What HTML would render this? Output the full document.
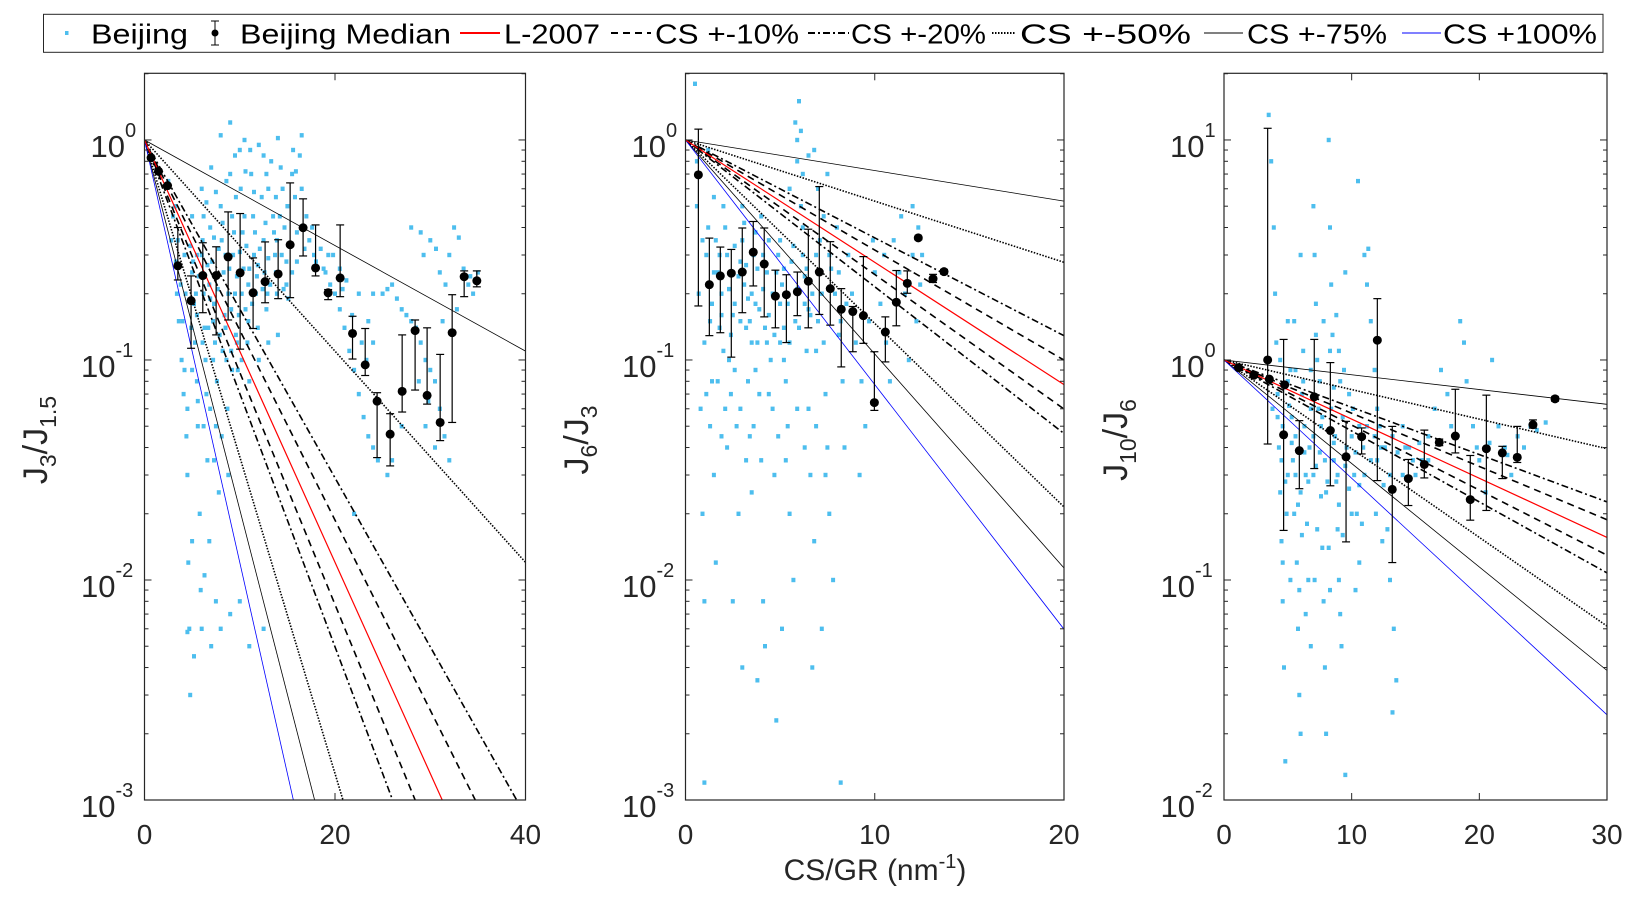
<!DOCTYPE html>
<html><head><meta charset="utf-8"><style>
html,body{margin:0;padding:0;background:#fff;overflow:hidden;width:1636px;height:899px;}
svg{display:block;font-family:"Liberation Sans","DejaVu Sans",sans-serif;}
</style></head><body>
<svg id="fig" width="1636" height="899" viewBox="0 0 1636 899" xmlns="http://www.w3.org/2000/svg">
<rect width="1636" height="899" fill="#fff"/>
<defs>
<clipPath id="c1"><rect x="144.5" y="73.3" width="381" height="726.7"/></clipPath>
<clipPath id="c2"><rect x="685.5" y="73.3" width="378.5" height="726.7"/></clipPath>
<clipPath id="c3"><rect x="1224" y="73.3" width="383" height="726.7"/></clipPath>
</defs>
<g id="legend">
<rect x="43.5" y="14.3" width="1559.5" height="38" fill="#fff" stroke="#262626" stroke-width="1"/>
<g>
<rect x="65" y="31" width="3.5" height="4" fill="#4DBEEE"/>
<text x="91" y="43.5" font-size="28" textLength="97" lengthAdjust="spacingAndGlyphs">Beijing</text></g>
<g>
<line x1="215" y1="21" x2="215" y2="45" stroke="#000" stroke-width="1"/>
<line x1="211" y1="21" x2="219" y2="21" stroke="#000"/><line x1="211" y1="45" x2="219" y2="45" stroke="#000"/>
<circle cx="215" cy="33" r="3.5" fill="#000"/>
<text x="240" y="43.5" font-size="28" textLength="211" lengthAdjust="spacingAndGlyphs">Beijing Median</text></g>
<g>
<line x1="460" y1="33" x2="500" y2="33" stroke="#ff0000" stroke-width="2"/>
<text x="504" y="43.5" font-size="28" textLength="96" lengthAdjust="spacingAndGlyphs">L-2007</text></g>
<g>
<line x1="611" y1="33" x2="651" y2="33" stroke="#000" stroke-width="2" stroke-dasharray="7,5"/>
<text x="655" y="43.5" font-size="28" textLength="144" lengthAdjust="spacingAndGlyphs">CS +-10%</text></g>
<g>
<line x1="808" y1="33" x2="849" y2="33" stroke="#000" stroke-width="2" stroke-dasharray="7,3,2,3"/>
<text x="851" y="43.5" font-size="28" textLength="135" lengthAdjust="spacingAndGlyphs">CS +-20%</text></g>
<g>
<line x1="992" y1="33" x2="1016" y2="33" stroke="#000" stroke-width="2" stroke-dasharray="1.5,1.5"/>
<text x="1020" y="43.5" font-size="28" textLength="171" lengthAdjust="spacingAndGlyphs">CS +-50%</text></g>
<g>
<line x1="1204" y1="33" x2="1243" y2="33" stroke="#000" stroke-width="1"/>
<text x="1247" y="43.5" font-size="28" textLength="140" lengthAdjust="spacingAndGlyphs">CS +-75%</text></g>
<g>
<line x1="1402" y1="33" x2="1441" y2="33" stroke="#0000ff" stroke-width="1"/>
<text x="1443" y="43.5" font-size="28" textLength="154" lengthAdjust="spacingAndGlyphs">CS +100%</text></g>
</g>
<text x="875" y="880" font-size="30" text-anchor="middle" fill="#262626">CS/GR (nm<tspan dy="-12" font-size="20">-1</tspan><tspan dy="12">)</tspan></text>
</svg>
<script>
// ---- data ----
const lineVariations = [0.1, 0.2, 0.5, 0.75];
const k0Values = [0.221, 0.128, 0.0619];

const p1MedX = [0.69,1.47,2.42,3.5,4.89,6.12,7.52,8.78,10.04,11.40,12.66,14.03,15.29,16.65,17.96,19.28,20.54,21.84,23.17,24.42,25.79,27.05,28.41,29.67,31.04,32.30,33.56,34.89];
const p1MedY = [.83,.72,.62,.268,.186,.242,.242,.294,.249,.202,.227,.246,.334,.399,.262,.202,.236,.132,.095,.065,.046,.072,.136,.069,.052,.133,.239,.229];
const p1MedHi = [.83,.72,.62,.40,.241,.341,.327,.471,.463,.291,.344,.352,.638,.540,.411,.209,.411,.158,.139,.071,.057,.130,.152,.140,.106,.198,.254,.254];
const p1MedLo = [.83,.72,.62,.231,.113,.164,.130,.152,.112,.139,.182,.190,.192,.297,.241,.188,.194,.101,.085,.036,.033,.058,.073,.063,.043,.052,.194,.215];

const p2MedX = [0.68,1.26,1.84,2.42,3.00,3.58,4.16,4.75,5.33,5.91,6.49,7.07,7.65,8.23,8.84,9.40,9.98,10.56,11.14,11.72,12.30,13.08,13.66];
const p2MedY = [.694,.220,.241,.248,.251,.309,.273,.195,.198,.204,.228,.251,.211,.170,.166,.159,.064,.134,.183,.223,.359,.234,.252];
const p2MedHi = [1.12,.358,.326,.318,.398,.426,.398,.256,.244,.251,.393,.614,.345,.211,.175,.295,.109,.157,.255,.254,.363,.245,.258];
const p2MedLo = [.176,.129,.133,.103,.164,.217,.157,.140,.120,.159,.140,.161,.144,.093,.109,.119,.059,.098,.143,.201,.352,.225,.246];

const p3MedX = [1.15,2.33,3.42,3.55,4.67,4.75,5.90,7.07,8.33,9.56,10.78,12.01,13.18,14.44,15.69,16.86,18.12,19.29,20.55,21.80,22.97,24.20,25.93];
const p3MedY = [.923,.852,1.0,.818,.457,.771,.387,.680,.478,.363,.448,1.23,.258,.289,.335,.422,.451,.232,.395,.378,.361,.508,.666];
const p3MedHi = [.923,.852,11.3,.818,1.24,.771,.530,1.24,.973,.526,.491,1.90,.499,.353,.480,.437,.736,.368,.692,.405,.499,.534,.68];
const p3MedLo = [.923,.852,.415,.818,.168,.771,.260,.321,.268,.149,.374,.283,.120,.218,.291,.408,.378,.187,.207,.289,.342,.490,.65];

const p1Scatter = [[3.2,.5],[3.5,.35],[3.8,.22],[4,.15],[4.2,.09],[4.5,.06],[4.5,.03],[4.6,.012],[4.7,.006],[4.8,.003],[4.4,.045],[5,.25],[5.2,.18],[5.3,.12],[5.5,.08],[5.6,.05],[5.8,.02],[5.9,.009],[6,.3],[6.2,.2],[6.3,.14],[6.4,.1],[6.5,.07],[6.6,.035],[6.8,.015],[7,.005],[6.9,.4],[7.1,.28],[7.3,.18],[7.4,.12],[7.6,.08],[7.5,.05],[7.8,.025],[8,.5],[8.1,.35],[8.3,.25],[8.4,.16],[8.6,.1],[8.7,.06],[8.8,.03],[9,.7],[9.2,.45],[9.3,.3],[9.5,.2],[9.6,.13],[9.8,.09],[10,.9],[10.1,.6],[10.3,.38],[10.4,.26],[10.6,.17],[10.8,.12],[11,.08],[11.2,.7],[11.4,.45],[11.5,.3],[11.7,.2],[11.9,.14],[12,.1],[12.3,.55],[12.5,.35],[12.6,.25],[12.8,.17],[13,.12],[13.3,.8],[13.5,.45],[13.7,.3],[13.9,.2],[14,.13],[14.5,.6],[14.7,.4],[14.9,.28],[15.1,.19],[15.6,.9],[15.8,.55],[16,.38],[16.3,.85],[16.5,.6],[17,.45],[17.3,.35],[18,.28],[18.5,.32],[19,.25],[19.5,.22],[20,.2],[20.5,.17],[21,.14],[21.5,.11],[22,.09],[22.5,.07],[23,.055],[23.5,.045],[24,.04],[24.5,.035],[19.8,.3],[20.5,.26],[21.2,.23],[22.5,.2],[24,.2],[25.5,.21],[26.5,.19],[27.5,.16],[28.5,.14],[29,.12],[29.5,.1],[30,.09],[30.5,.08],[31,.06],[31.5,.045],[32,.035],[28,.4],[29,.38],[30,.35],[31,.25],[32,.3],[33,.36],[34,.22],[35,.25],[34.5,.2],[29.5,.05],[30.5,.04],[27,.05],[25.5,.03],[26,.035],[22,.02],[24,.12],[23.5,.15],[8,1.05],[9,1.2],[10.5,1],[12,.95],[14,1.02],[16.5,1.05],[7,.75],[6,.6],[5,.45],[2.5,.65],[3,.45],[12.5,.85],[15.5,.7],[13,.6],[4.5,.0058],[5.2,.0045],[6,.006],[6.3,.0105],[5,.015],[7.5,.008],[8,.006],[9,.007],[10,.008],[11,.005],[12.5,.006],[5.5,.3],[6.8,.22],[7.8,.32],[8.8,.2],[9.9,.16],[10.9,.22],[11.9,.27],[12.9,.2],[13.9,.35],[14.9,.22],[7.2,.15],[8.2,.11],[9.2,.09],[6.2,.45],[5.4,.2],[4.2,.3],
[4.8,.33],[5.1,.28],[5.7,.24],[6.1,.35],[6.6,.27],[6.9,.19],[7.3,.36],[7.7,.21],[8.2,.42],[8.5,.3],[8.9,.26],[9.1,.17],[9.4,.38],[9.7,.24],[10,.31],[10.2,.2],[10.5,.45],[10.7,.33],[11,.26],[11.3,.18],[11.6,.38],[11.8,.24],[12.1,.32],[12.4,.21],[12.7,.42],[13,.29],[13.2,.22],[13.6,.38],[13.8,.25],[14.2,.45],[14.4,.3],[14.6,.21],[15,.5],[15.3,.33],[15.5,.25],[16,.28],[16.8,.32],[17.6,.4],[4.3,.2],[4.9,.14],[5.5,.16],[6.1,.12],[6.7,.14],[7.2,.1],[7.9,.13],[8.5,.14],[9.1,.11],[9.7,.12],[10.2,.1],[10.9,.15],[3.6,.15],[3.9,.1],[4.1,.07],[5,.09],[5.6,.065],[6.2,.05],[6.9,.06],[7.3,.035],[8.1,.045],[3.4,.2],[3.3,.28],[2.8,.35],[6.5,.52],[7.5,.58],[8.6,.65],[9.6,.55],[10.6,.72],[11.5,.58],[12.8,.7],[14.3,.75],[15.9,.72],[9.5,.85],[11.1,.9],[13.8,.55],[17.8,.3],[18.8,.26],[19.3,.3],[20.8,.21],[21.8,.16],[22.8,.12],[23.3,.1],[25,.2],[26,.22],[27,.17],[28,.15],[29.3,.3],[30.6,.32],[31.6,.22],[32.5,.4],[33.5,.26],[34.2,.24],[31.3,.15],[32.8,.17],[28.8,.08],[29.8,.065]];

const p2Scatter = [[0.5,1.8],[0.6,.5],[0.7,.2],[0.8,.06],[0.9,.02],[1,.008],[1,.0012],[1.2,.4],[1.3,.15],[1.4,.08],[1.5,.03],[1.6,.012],[1.8,.3],[1.9,.2],[2,.11],[2.1,.06],[2.2,.04],[2.4,.25],[2.5,.16],[2.6,.09],[2.7,.05],[2.8,.02],[3,.35],[3.1,.22],[3.2,.14],[3.3,.08],[3.4,.045],[3.5,.025],[3.6,.3],[3.7,.18],[3.8,.12],[3.9,.07],[4,.035],[4.1,.008],[4.2,.005],[4.3,.25],[4.4,.16],[4.5,.1],[4.6,.06],[4.7,.03],[4.8,.0023],[5,.35],[5.1,.22],[5.2,.14],[5.3,.08],[5.4,.05],[5.5,.02],[5.7,.01],[5.8,1.2],[5.9,.8],[6,1.5],[6.1,.5],[6.2,.3],[6.3,.18],[6.4,.11],[6.5,.06],[6.6,.03],[6.8,.015],[7,.6],[7.1,.35],[7.2,.2],[7.3,.12],[7.4,.07],[7.5,.04],[7.6,.02],[7.8,.01],[8,.4],[8.1,.25],[8.2,.15],[8.3,.08],[8.4,.04],[8.2,.0012],[8.6,.3],[8.8,.2],[9,.12],[9.3,.08],[9.5,.05],[9.7,.15],[10,.25],[10.3,.18],[10.6,.12],[11,.35],[11.3,.25],[11.6,.2],[12,.5],[12.3,.4],[12.5,.3],[12.2,.15],[11.8,.1],[10.8,.08],[9.2,.03],[6.8,.9],[7.5,.7],[5.5,.6],[3,.5],[4,.45],[2,.5],[1.5,.55],[1.5,.25],[2.2,.3],[2.9,.28],[3.5,.2],[4.1,.3],[4.8,.25],[5.6,.28],[6.3,.24],[1.8,.14],[2.6,.18],[3.4,.15],[4.3,.12],[5,.18],[5.8,.15],[6.6,.16],[7.7,.26],[8.5,.18],[2.3,.1],[3.7,.09],[5.2,.1],[6.9,.11],
[1.1,.3],[1.2,.22],[1.4,.18],[1.6,.35],[1.7,.25],[1.9,.16],[2.1,.4],[2.3,.21],[2.4,.13],[2.6,.33],[2.8,.24],[2.9,.15],[3.1,.42],[3.2,.27],[3.3,.19],[3.5,.12],[3.7,.38],[3.8,.26],[3.9,.17],[4.1,.21],[4.2,.14],[4.4,.35],[4.6,.2],[4.7,.13],[4.9,.3],[5,.12],[5.2,.26],[5.4,.18],[5.5,.12],[5.7,.33],[5.9,.21],[6,.14],[6.2,.4],[6.4,.26],[6.5,.17],[6.7,.2],[6.9,.3],[7,.15],[7.3,.45],[7.6,.3],[7.9,.2],[8.1,.13],[1,.12],[1.1,.07],[1.3,.05],[1.7,.08],[1.9,.045],[2.4,.07],[2.9,.06],[3.2,.035],[3.6,.05],[4.4,.07],[4.9,.045],[5.3,.035],[5.9,.06],[6.3,.04],[6.9,.05],[7.4,.03],[0.9,.35],[0.6,.8],[1.2,.9],[5.9,1],[6.2,.7],[6.5,.85],[6.1,1.1],[9.9,.35],[10.5,.3],[11.4,.45],[12,.3],[12.4,.22],[2.5,.008],[3,.004],[3.8,.0035],[5.1,.006],[6.7,.004],[7.2,.006]];

const p3Scatter = [[3.5,13],[3.7,8],[3.9,4],[4,2],[4.1,1.2],[4.2,.7],[4.3,.4],[4.4,.25],[4.5,.15],[4.6,.08],[4.7,.04],[4.8,.015],[5,1.5],[5.2,.9],[5.3,.55],[5.4,.35],[5.5,.2],[5.7,.12],[5.8,.06],[5.9,.03],[6,.02],[6.2,.8],[6.3,.5],[6.4,.3],[6.5,.18],[6.6,.1],[6.8,.05],[7,5],[7.1,3],[7.2,1.8],[7.3,1],[7.4,.6],[7.5,.38],[7.6,.24],[7.7,.14],[7.8,.08],[7.9,.04],[8,.02],[8.2,10],[8.3,4],[8.4,2.2],[8.5,1.3],[8.6,.75],[8.7,.45],[8.8,.28],[8.9,.17],[9,.1],[9.2,.05],[9.5,.013],[9.8,.7],[10,.45],[10.2,.3],[10.4,.2],[10.6,.12],[11,3],[11.2,2.2],[11.5,1.5],[11.8,.9],[12,.6],[12.3,.4],[12.5,.27],[12.8,.17],[13,.1],[13.3,.06],[13.5,.035],[13.2,.025],[14,.5],[14.5,.4],[15,.3],[15.5,.35],[16,.45],[16.5,.6],[17,.9],[17.5,.7],[18.5,1.5],[18.8,1.2],[19,.8],[19.5,.5],[20,.35],[21,1],[21.5,.5],[22,.4],[23,.45],[24,.5],[22.5,.3],[20.5,.25],[16,.35],[3.8,.6],[6,3],[9.5,2.5],[10.5,6.5],[11.3,3.2],[9,1.1],[5.5,1.5],[4.6,.5],[5.6,.45],[6.7,.4],[7.6,.5],[8.6,.35],[9.6,.4],[10.6,.5],[5,.3],[6,.25],[7,.3],[8,.25],[9,.22],[10,.2],[11,.3],[12,.35],[13,.3],[14,.3],[4.9,.2],[6.1,.16],[7.3,.17],[8.2,.14],[9.3,.16],[10.8,.18],
[4.2,.55],[4.5,.35],[4.8,.28],[5.1,.62],[5.3,.42],[5.6,.3],[5.8,.22],[6.1,.7],[6.3,.38],[6.6,.28],[6.8,.6],[7,.45],[7.2,.33],[7.5,.8],[7.7,.55],[7.9,.35],[8.1,.28],[8.4,.6],[8.6,.42],[8.9,.3],[9.1,.8],[9.3,.55],[9.5,.33],[9.8,.26],[10.1,.6],[10.3,.38],[10.6,.27],[10.9,.4],[11.2,.5],[11.5,.35],[11.8,.45],[12.2,.5],[12.6,.4],[13.2,.45],[13.6,.38],[14.2,.4],[14.8,.35],[15.3,.42],[4.4,1],[5,.8],[5.6,.9],[6.2,1.1],[6.8,.9],[7.2,1.3],[7.8,1.5],[8.3,1.1],[8.8,1.6],[9.4,.9],[4.6,.12],[5.2,.1],[5.9,.09],[6.4,.07],[7.1,.1],[8.3,.09],[9.1,.07],[10.3,.09],[11.9,.2],[12.4,.15],[17.8,.5],[18.2,.45],[19.8,.4],[20.8,.42],[22.2,.37],[23.5,.4],[24.5,.48],[25.2,.52]];

// ---- layout ----
const NS = "http://www.w3.org/2000/svg";
const svg = document.getElementById('fig');
const panels = [
  {x0:144.5, x1:525.5, xmax:40, xticks:[0,20,40], lmin:-3, lmax:0.303, clip:'c1',
   sc:p1Scatter, mx:p1MedX, my:p1MedY, mh:p1MedHi, ml:p1MedLo, k0:k0Values[0],
   lab:['3','1.5'], labx:47},
  {x0:685.5, x1:1064, xmax:20, xticks:[0,10,20], lmin:-3, lmax:0.303, clip:'c2',
   sc:p2Scatter, mx:p2MedX, my:p2MedY, mh:p2MedHi, ml:p2MedLo, k0:k0Values[1],
   lab:['6','3'], labx:588},
  {x0:1224, x1:1607, xmax:30, xticks:[0,10,20,30], lmin:-2, lmax:1.303, clip:'c3',
   sc:p3Scatter, mx:p3MedX, my:p3MedY, mh:p3MedHi, ml:p3MedLo, k0:k0Values[2],
   lab:['10','6'], labx:1127}
];
const YT = 73.3, YB = 800;
function mk(tag, attrs, parent){
  const e = document.createElementNS(NS, tag);
  for (const k in attrs) e.setAttribute(k, attrs[k]);
  (parent||svg).appendChild(e);
  return e;
}
panels.forEach((P, pi) => {
  const sx = v => P.x0 + v / P.xmax * (P.x1 - P.x0);
  const sy = v => YB - (Math.log10(v) - P.lmin) / (P.lmax - P.lmin) * (YB - YT);
  const g = mk('g', {});
  
  
  const plot = mk('g', {'clip-path':'url(#'+P.clip+')'}, g);
  const sg = mk('g', {fill:'#4DBEEE'}, plot);
  
  
  P.sc.forEach(d => {
    const r = mk('rect', {x:(sx(d[0])-2).toFixed(1), y:(sy(d[1])-2.2).toFixed(1), width:4, height:4.4}, sg);
    
    
  });
  const styles = {0.1:{d:'7,5',w:1.6}, 0.2:{d:'7,3,2,3',w:1.6}, 0.5:{d:'1.5,1.5',w:1.6}, 0.75:{d:'',w:0.8}};
  function modelLine(k, color, st, name){
    const xs = [0, P.xmax];
    const pts = xs.map(x => sx(x).toFixed(1) + ',' + sy(Math.exp(-k*x)).toFixed(1)).join(' ');
    const l = mk('polyline', {points:pts, fill:'none', stroke:color, 'stroke-width':st.w}, plot);
    if (st.d) l.setAttribute('stroke-dasharray', st.d);
    
    
  }
  lineVariations.forEach(p => {
    modelLine(P.k0*(1+p), '#000', styles[p], 'cs-plus-' + Math.round(p*100));
    modelLine(P.k0*(1-p), '#000', styles[p], 'cs-minus-' + Math.round(p*100));
  });
  modelLine(P.k0*2, '#0000ff', {d:'',w:0.8}, 'cs-plus-100');
  modelLine(P.k0, '#ff0000', {d:'',w:1.2}, 'l-2007-line');
  const mg = mk('g', {}, plot);
  
  
  P.mx.forEach((x, i) => {
    const cx = sx(x);
    if (P.mh[i] !== P.ml[i]) {
      mk('line', {x1:cx, x2:cx, y1:sy(P.mh[i]), y2:sy(P.ml[i]), stroke:'#000', 'stroke-width':1.2}, mg);
      mk('line', {x1:cx-4, x2:cx+4, y1:sy(P.mh[i]), y2:sy(P.mh[i]), stroke:'#000', 'stroke-width':1.2}, mg);
      mk('line', {x1:cx-4, x2:cx+4, y1:sy(P.ml[i]), y2:sy(P.ml[i]), stroke:'#000', 'stroke-width':1.2}, mg);
    }
    const c = mk('circle', {cx:cx, cy:sy(P.my[i]), r:4.5, fill:'#000'}, mg);
    
    
  });
  const fr = mk('rect', {x:P.x0, y:YT, width:P.x1-P.x0, height:YB-YT, fill:'none', stroke:'#262626', 'stroke-width':1.2}, g);
  
  
  const xa = mk('g', {}, g);
  
  
  P.xticks.forEach(t => {
    const x = sx(t);
    mk('line', {x1:x, x2:x, y1:YB, y2:YB-7, stroke:'#262626'}, xa);
    mk('line', {x1:x, x2:x, y1:YT, y2:YT+7, stroke:'#262626'}, xa);
    const tx = mk('text', {x:x, y:844, 'font-size':28, 'text-anchor':'middle', fill:'#262626'}, xa);
    tx.textContent = t;
    
    
  });
  const ya = mk('g', {}, g);
  
  
  for (let d = P.lmin; d <= Math.floor(P.lmax); d++) {
    const y = sy(Math.pow(10, d));
    mk('line', {x1:P.x0, x2:P.x0+7, y1:y, y2:y, stroke:'#262626'}, ya);
    mk('line', {x1:P.x1, x2:P.x1-7, y1:y, y2:y, stroke:'#262626'}, ya);
    for (let m = 2; m <= 9; m++) {
      const v = m*Math.pow(10, d);
      if (Math.log10(v) > P.lmax) break;
      const yy = sy(v);
      mk('line', {x1:P.x0, x2:P.x0+4, y1:yy, y2:yy, stroke:'#262626'}, ya);
      mk('line', {x1:P.x1, x2:P.x1-4, y1:yy, y2:yy, stroke:'#262626'}, ya);
    }
    const ex = String(d);
    const supW = ex.length * 9.5;
    const t = mk('text', {x:P.x0-10-supW, y:y+17, 'font-size':31, 'text-anchor':'end', fill:'#262626'}, ya);
    t.textContent = '10';
    
    
    const s = mk('text', {x:P.x0-10-supW, y:y-3, 'font-size':20, 'text-anchor':'start', fill:'#262626'}, ya);
    s.textContent = ex;
    
    
  }
  const yl = mk('text', {x:0, y:0, 'font-size':34, fill:'#262626',
    transform:'translate('+P.labx+',440) rotate(-90)', 'text-anchor':'middle'}, g);
  
  
  yl.innerHTML = 'J<tspan font-size="23" dy="9">'+P.lab[0]+'</tspan><tspan dy="-9">/J</tspan><tspan font-size="23" dy="9">'+P.lab[1]+'</tspan>';
});
</script>
</body></html>
